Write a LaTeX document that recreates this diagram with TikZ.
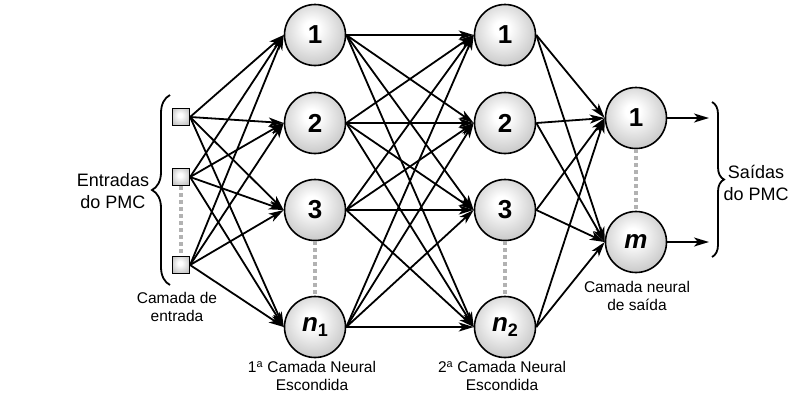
\documentclass[tikz,border=0pt]{standalone}
\usepackage{fontspec}
\setmainfont{Liberation Sans}
\usetikzlibrary{arrows.meta,decorations.pathreplacing}
\pgfdeclareradialshading{neuronshade}{\pgfpoint{-3bp}{6bp}}{color(0bp)=(white); color(6bp)=(white); color(50bp)=(black!42); color(60bp)=(black!50)}
\begin{document}
\begin{tikzpicture}[x=1pt,y=-1pt,
 neuron/.style={circle,draw=black,line width=1.6pt,minimum size=61pt,inner sep=0pt,shading=neuronshade,font=\fontsize{26}{26}\selectfont\bfseries},
 inbox/.style={rectangle,draw=black,line width=1.2pt,minimum size=17pt,inner sep=0pt,shading=neuronshade},
 conn/.style={line width=1.8pt,-{Stealth[length=15pt,width=9pt,inset=4pt]}},
 dots/.style={black!30,line width=4pt,dash pattern=on 4pt off 3pt},
 lbl/.style={font=\fontsize{18}{21.5}\selectfont,align=center},
 slbl/.style={font=\fontsize{15.5}{18.5}\selectfont,align=center},
 bracestyle/.style={line width=1.8pt,decorate,decoration={brace,amplitude=#1}}]

\useasboundingbox (0,0) rectangle (802,416);

% input layer
\node[inbox] (i1) at (181,117) {};
\node[inbox] (i2) at (181,177) {};
\node[inbox] (i3) at (181,265) {};

% first hidden layer
\node[neuron] (h1) at (315,35) {1};
\node[neuron] (h2) at (315,123) {2};
\node[neuron] (h3) at (315,210) {3};
\node[neuron] (h4) at (315,327) {\textit{n}\raisebox{-0.3ex}{\fontsize{18}{18}\selectfont 1}};

% second hidden layer
\node[neuron] (g1) at (505,35) {1};
\node[neuron] (g2) at (505,123) {2};
\node[neuron] (g3) at (505,210) {3};
\node[neuron] (g4) at (505,327) {\textit{n}\raisebox{-0.3ex}{\fontsize{18}{18}\selectfont 2}};

% output layer
\node[neuron] (o1) at (636,118) {1};
\node[neuron] (o2) at (636,242) {\textit{m}};

% dotted continuation lines
\draw[dots] (i2.south) -- (i3.north);
\draw[dots] (h3.south) -- (h4.north);
\draw[dots] (g3.south) -- (g4.north);
\draw[dots] (o1.south) -- (o2.north);

% connections
\foreach \a in {1,2,3}{\foreach \b in {1,2,3,4}{\draw[conn] (i\a.east) -- (h\b.west);}}
\foreach \a in {1,2,3,4}{\foreach \b in {1,2,3,4}{\draw[conn] (h\a.east) -- (g\b.west);}}
\foreach \a in {1,2,3,4}{\foreach \b in {1,2}{\draw[conn] (g\a.east) -- (o\b.west);}}

% outputs
\coordinate (y1) at (709,118);
\coordinate (y2) at (709,242);
\draw[conn] (o1.east) -- (y1);
\draw[conn] (o2.east) -- (y2);

% braces
\coordinate (lb1) at (170,285);
\coordinate (lb2) at (170,95);
\draw[bracestyle=18pt] (lb1) -- (lb2);
\coordinate (rb1) at (712,102);
\coordinate (rb2) at (712,257);
\draw[bracestyle=12pt] (rb1) -- (rb2);

% labels
\node[lbl] (tin) at (113,191) {Entradas\\do PMC};
\node[lbl] (tout) at (756,183) {Saídas\\do PMC};
\node[slbl] (lin) at (177,307) {Camada de\\entrada};
\node[slbl] (lh1) at (312,376) {1\textsuperscript{a} Camada Neural\\Escondida};
\node[slbl] (lh2) at (502,376) {2\textsuperscript{a} Camada Neural\\Escondida};
\node[slbl] (lo) at (637,296) {Camada neural\\de saída};
\end{tikzpicture}
\end{document}
